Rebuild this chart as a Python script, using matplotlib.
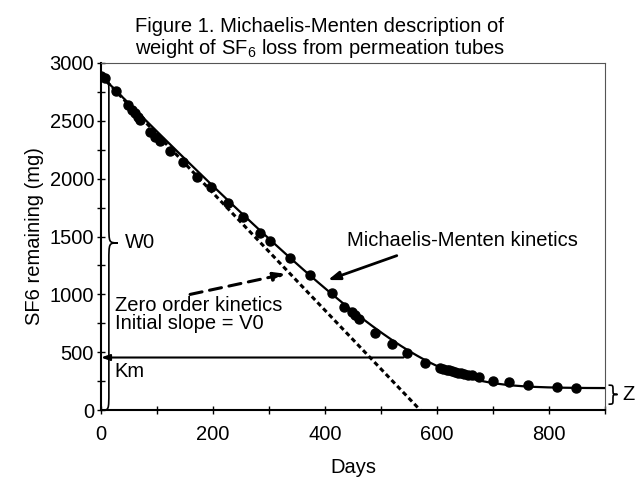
import numpy as np
import matplotlib
matplotlib.use('Agg')
import matplotlib.pyplot as plt
from matplotlib.path import Path
from matplotlib.patches import PathPatch

plt.rcParams['font.family'] = ['Liberation Sans', 'DejaVu Sans']
plt.rcParams['mathtext.fontset'] = 'custom'
plt.rcParams['mathtext.rm'] = 'Liberation Sans'

# measured SF6 weight remaining in the tube
days = [0, 7, 26, 48, 55, 61, 66, 70, 88, 96, 105, 123, 146, 171, 197, 227,
        253, 284, 302, 338, 373, 412, 434, 448, 454, 461, 489, 519, 546, 579,
        605, 611, 617, 622, 627, 632, 637, 642, 648, 655, 662, 674, 700, 729,
        763, 814, 848]
weight = [2890, 2870, 2758, 2637, 2594, 2568, 2533, 2507, 2403, 2360, 2325,
          2235, 2140, 2015, 1930, 1792, 1671, 1533, 1464, 1314, 1167, 1014,
          893, 850, 821, 784, 668, 571, 490, 409, 365, 358, 350, 343, 336,
          330, 325, 320, 313, 306, 300, 290, 256, 245, 216, 201, 193]

# Michaelis-Menten fit parameters
W0 = 2700     # releasable SF6 (mg)
Z = 190       # residual (mg)
Km = 265      # mg
Vmax = 5.35   # mg/day
V0_line_end = 570   # zero order line reaches 0 here (days)

# integrated MM: t(S) = (Km ln(S0/S) + S0 - S) / Vmax
S = np.geomspace(W0, 0.5, 400)
t_fit = (Km * np.log(W0 / S) + (W0 - S)) / Vmax
w_fit = Z + S

FS = 14.5

fig = plt.figure(figsize=(6.37, 4.82), dpi=100)
ax = fig.add_axes([0.1586, 0.149, 0.7914, 0.7205])

ax.plot(t_fit, w_fit, color='black', lw=1.6, zorder=3)
ax.plot([0, V0_line_end], [W0 + Z, 0], color='black', lw=2.2,
        dashes=(1.6, 1.1), zorder=2)
ax.plot(days, weight, 'o', color='black', ms=6.5, zorder=4)

ax.set_xlim(0, 900)
ax.set_ylim(0, 3000)
ax.set_xticks(np.arange(0, 900, 200))
ax.set_xticks(np.arange(0, 901, 100), minor=True)
ax.set_yticks(np.arange(0, 3001, 500))
ax.set_yticks(np.arange(0, 3001, 250), minor=True)
ax.tick_params(which='both', direction='inout', length=6, width=1,
               labelsize=FS, pad=2)
ax.tick_params(axis='x', pad=8)
ax.set_xlabel('Days', fontsize=FS, labelpad=10)
ax.set_ylabel('SF6 remaining (mg)', fontsize=FS, labelpad=4)

for side in ('left', 'bottom'):
    ax.spines[side].set_linewidth(1.5)
for side in ('top', 'right'):
    ax.spines[side].set_linewidth(0.8)
    ax.spines[side].set_color('#555555')


def brace(x0, xs, xt, y0, y1, ym, r, lw=1.2):
    verts = [(x0, y1), (xs, y1), (xs, y1), (xs, y1 - r),
             (xs, ym + r),
             (xs, ym), (xs, ym), (xt, ym),
             (xs, ym), (xs, ym), (xs, ym - r),
             (xs, y0 + r),
             (xs, y0), (xs, y0), (x0, y0)]
    codes = [Path.MOVETO, Path.CURVE4, Path.CURVE4, Path.CURVE4,
             Path.LINETO,
             Path.CURVE4, Path.CURVE4, Path.CURVE4,
             Path.CURVE4, Path.CURVE4, Path.CURVE4,
             Path.LINETO,
             Path.CURVE4, Path.CURVE4, Path.CURVE4]
    ax.add_patch(PathPatch(Path(verts, codes), fill=False, color='black',
                           lw=lw, clip_on=False, zorder=5))


brace(1, 14, 30, 0, 2880, 1445, 160)
ax.text(43, 1445, 'W0', fontsize=FS, va='center', ha='left')

brace(906, 914, 922, 52, 216, 136, 40)
ax.text(930, 136, 'Z', fontsize=FS, va='center', ha='left', clip_on=False)

# Km marker
ax.annotate('', xy=(0, 455), xytext=(540, 455),
            arrowprops=dict(arrowstyle='-|>,head_length=0.5,head_width=0.18',
                            color='black', lw=1.5, shrinkA=0, shrinkB=0))
ax.text(23, 415, 'Km', fontsize=FS, va='top', ha='left')

ax.text(25, 905, 'Zero order kinetics', fontsize=FS, va='center', ha='left')
ax.text(25, 745, 'Initial slope = V0', fontsize=FS, va='center', ha='left')
ax.annotate('', xy=(330, 1178), xytext=(159, 1000),
            arrowprops=dict(arrowstyle='-|>,head_length=0.7,head_width=0.25',
                            color='black', lw=2.2, linestyle=(0, (4, 2.5)),
                            shrinkA=0, shrinkB=0))

ax.text(439, 1470, 'Michaelis-Menten kinetics', fontsize=FS, va='center',
        ha='left')
ax.annotate('', xy=(405, 1124), xytext=(528, 1335),
            arrowprops=dict(arrowstyle='-|>,head_length=0.7,head_width=0.25',
                            color='black', lw=2, shrinkA=0, shrinkB=0))

fig.text(0.502, 0.965, 'Figure 1. Michaelis-Menten description of\n'
         r'weight of SF$\mathregular{_6}$ loss from permeation tubes',
         ha='center', va='top', fontsize=14.5, linespacing=1.05)

fig.savefig('out.png', dpi=100)
